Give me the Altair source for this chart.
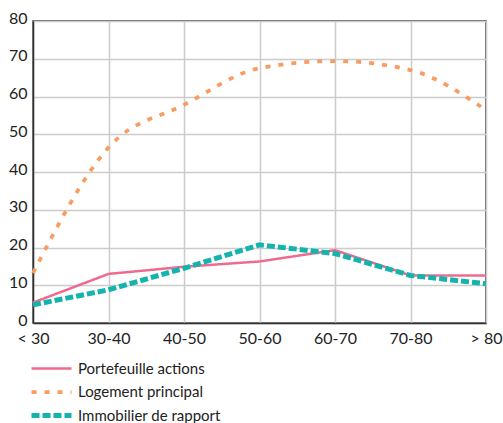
import altair as alt
import pandas as pd

categories = ["< 30", "30-40", "40-50", "50-60", "60-70", "70-80", "> 80"]
series_names = ["Portefeuille actions", "Logement principal", "Immobilier de rapport"]
portefeuille = [5.4, 13.0, 14.9, 16.3, 19.3, 12.6, 12.6]
logement = [13.2, 46.5, 57.8, 67.5, 69.4, 67.0, 56.4]
immobilier = [4.8, 8.8, 14.5, 20.7, 18.4, 12.6, 10.4]
y_ticks = [0, 10, 20, 30, 40, 50, 60, 70, 80]

rows = []
for name, vals in zip(series_names, [portefeuille, logement, immobilier]):
    for c, v in zip(categories, vals):
        rows.append({"age": c, "serie": name, "val": v})
df = pd.DataFrame(rows)

FONT = "Lato"
colors = ["#ee6b8f", "#f99c62", "#14b3ae"]
dashes = [[1, 0], [5, 8], [8, 3]]
widths = [2.5, 5, 4.2]

x = alt.X("age:N", sort=categories, scale=alt.Scale(type="point", padding=0),
          axis=alt.Axis(title=None, labelAngle=0, labelFontSize=16, labelFont=FONT,
                        labelColor="#222", ticks=False, labelPadding=7,
                        grid=True, gridColor="#cccccc", gridWidth=1.5,
                        domainColor="#333", domainWidth=1.5))
y = alt.Y("val:Q", scale=alt.Scale(domain=[0, 80]),
          axis=alt.Axis(title=None, values=y_ticks, labelFontSize=16, labelFont=FONT,
                        labelColor="#222", ticks=False, labelPadding=6,
                        labelBaseline="middle", labelOffset=-3,
                        grid=True, gridColor="#cccccc", gridWidth=1.5,
                        domainColor="#333", domainWidth=1.5))
color = alt.Color("serie:N", sort=series_names,
                  scale=alt.Scale(domain=series_names, range=colors),
                  legend=alt.Legend(title=None, orient="none", legendX=6, legendY=336,
                                    labelFont=FONT, labelFontSize=15, labelColor="#222",
                                    symbolType="M-2,0L2,0", symbolSize=400,
                                    labelOffset=14, rowPadding=3))
dash = alt.StrokeDash("serie:N", sort=series_names,
                      scale=alt.Scale(domain=series_names, range=dashes), legend=None)
sw = alt.StrokeWidth("serie:N", sort=series_names,
                     scale=alt.Scale(domain=series_names, range=widths), legend=None)

lin = alt.Chart(df).transform_filter(alt.datum.serie != series_names[1]).mark_line(
    interpolate="linear", strokeCap="butt").encode(x=x, y=y, color=color, strokeDash=dash, strokeWidth=sw)
smooth = alt.Chart(df).transform_filter(alt.datum.serie == series_names[1]).mark_line(
    interpolate="monotone", strokeCap="butt").encode(x=x, y=y, color=color, strokeDash=dash, strokeWidth=sw)

chart = alt.layer(lin, smooth).properties(
    width=453, height=302,
    autosize=alt.AutoSizeParams(type="none"),
    padding={"left": 33, "top": 21, "right": 17, "bottom": 100},
    background="white",
).configure_view(stroke="#333", strokeWidth=1.5)

chart.save("out.html", embed_options={"renderer": "svg", "actions": False})
